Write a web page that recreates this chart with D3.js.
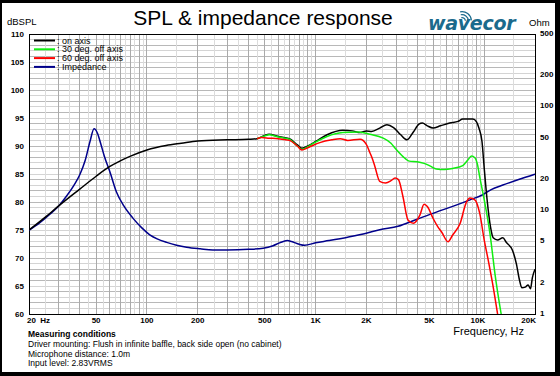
<!DOCTYPE html>
<html><head><meta charset="utf-8">
<script src="https://cdn.jsdelivr.net/npm/d3@7"></script>
<style>body{margin:0;background:#fff}svg{display:block;font-family:"Liberation Sans",Arial,sans-serif}</style>
</head><body><svg id="c" width="560" height="376"></svg>
<script>
// ---- data ----
const splTicks = [60,65,70,75,80,85,90,95,100,105,110];
const ohmTicks = [1,2,5,10,20,50,100,200,500];
const freqTicks = [20,50,100,200,500,1000,2000,5000,10000,20000];
const freqTickLabels = ["20  Hz","50","100","200","500","1K","2K","5K","10K","20K"];
const legendLabels = [": on axis",": 30 deg. off axis",": 60 deg. off axis",": Impedance"];

const onAxisF = [20,25,30,40,50,60,70,80,100,130,160,200,300,400,450,500,530,600,700,780,830,900,1000,1170,1450,1650,1836,2000,2150,2400,2650,2900,3200,3480,3800,4100,4300,4600,4970,5500,6240,7000,7460,8560,9000,9300,9700,10000,10400,10900,11300,12000,12900,13500,14700,15500,16200,16700,17500,18200,18800,19300,20000];
const onAxisDb = [75,77.3,79.3,82.3,84.6,86.3,87.4,88.2,89.3,90.1,90.5,90.9,91.1,91.2,91.3,91.9,92.1,91.7,91.3,90.2,89.6,90.0,90.8,92.0,92.8,92.7,92.4,92.7,92.6,93.2,93.8,93.3,92.0,91.1,92.5,93.9,94.1,93.6,93.2,93.6,94.1,94.4,94.8,94.8,94.3,93.2,90.8,86,80.4,75.5,73.6,73.2,73.6,72.8,71.4,69,66,64.7,64.8,65.2,64.5,66.5,68];

const deg30F = [450,500,530,600,700,780,830,900,1000,1170,1450,1800,2100,2520,2800,3000,3300,3600,4000,4400,4800,5200,5800,6500,7460,8000,8400,8800,9100,9400,10000,10800,11600,12600];
const deg30Db = [91.3,91.8,92.0,91.6,91.2,90.0,89.4,89.9,90.7,91.7,92.4,92.5,92.1,91.4,90.5,89.4,88.1,87.3,87.2,86.9,86.4,85.9,85.8,86.0,86.5,87.5,88.2,87.9,86.8,84.5,80.4,74.5,67,60];

const deg60F = [450,480,530,600,700,780,830,900,1060,1250,1400,1550,1836,2000,2100,2180,2250,2400,2600,2800,2960,3100,3300,3530,3800,4160,4400,4600,4970,5300,5600,6100,6500,7200,7800,8240,8800,9400,10000,10500,11200,12000];
const deg60Db = [91.3,91.5,91.4,91.3,91.0,90.0,89.3,89.7,90.6,91.1,91.3,91.0,91.2,90.3,88.8,87.6,86.3,83.7,83.4,83.8,84.3,84.0,80.9,76.8,76.2,77.7,79.6,79.2,77.1,75.6,74.6,72.9,74.1,76.2,79.8,80.7,80.4,78.0,73.2,70.0,65.5,60];

const impF = [20,23,26.7,30,33.5,37,40,43,46,48.6,51,53,56,60.6,66,73,82.6,93,104,115,131,150,172,207,246,300,400,489,560,612,680,720,800,860,1000,1200,1550,2000,2400,3080,4000,5200,6500,8240,9800,11000,12900,16000,20000];
const impOhm = [6.4,7.5,9.2,11,13.8,17.5,22,30,46,61,55,45,33,23,15,11,8.4,6.8,5.8,5.3,4.9,4.6,4.4,4.25,4.15,4.15,4.2,4.3,4.55,4.85,5.1,5.0,4.7,4.6,4.85,5.1,5.5,6.0,6.5,7.0,8.2,9.6,10.9,12.6,14.1,15.8,17.5,19.8,22.3];

// ---- layout ----
const svg = d3.select("#c");
const L=29, R=535, T=34, B=314;
const x = d3.scaleLog().domain([20,20000]).range([L,R]);
const y = d3.scaleLinear().domain([60,110]).range([B,T]);
const yz = d3.scaleLog().domain([1,500]).range([B,T]);

// frame
svg.append("rect").attr("width",560).attr("height",376).attr("fill","#000");
svg.append("rect").attr("x",2).attr("y",3).attr("width",553).attr("height",369).attr("fill","#fff");

// grid
const g = svg.append("g");
for (let v=60; v<=110; v+=1) {
  g.append("line").attr("x1",L).attr("x2",R).attr("y1",y(v)).attr("y2",y(v))
   .attr("stroke", v%2===0 ? "#b8b8b8" : "#d4d4d4").attr("stroke-width",1).attr("shape-rendering","crispEdges");
}
const vMajor=[], vMinor=[];
[10,100,1000,10000].forEach(d=>{
  for(let k=1;k<=9;k++){ const f=d*k; if(f>=20&&f<=20000) vMajor.push(f); const h=d*(k+0.5); if(h>20&&h<20000&&k>=1) vMinor.push(h); }
});
vMajor.push(20000);
vMinor.forEach(f=>g.append("line").attr("x1",x(f)).attr("x2",x(f)).attr("y1",T).attr("y2",B).attr("stroke","#dcdcdc").attr("shape-rendering","crispEdges"));
vMajor.forEach(f=>g.append("line").attr("x1",x(f)).attr("x2",x(f)).attr("y1",T).attr("y2",B).attr("stroke","#aaaaaa").attr("shape-rendering","crispEdges"));

svg.append("rect").attr("x",L).attr("y",T).attr("width",R-L).attr("height",B-T)
  .attr("fill","none").attr("stroke","#000").attr("shape-rendering","crispEdges");

// curves
const clipId="pc";
svg.append("clipPath").attr("id",clipId).append("rect").attr("x",L).attr("y",T).attr("width",R-L).attr("height",B-T+1);
const cg = svg.append("g").attr("clip-path","url(#pc)");
function draw(fs, vs, sy, color){
  const line = d3.line().x(d=>x(d[0])).y(d=>sy(d[1])).curve(d3.curveMonotoneX);
  cg.append("path").datum(fs.map((f,i)=>[f,vs[i]])).attr("d",line)
    .attr("fill","none").attr("stroke",color).attr("stroke-width",1.5).attr("stroke-linejoin","round");
}
draw(impF, impOhm, yz, "#00008b");
draw(onAxisF, onAxisDb, y, "#000000");
draw(deg30F, deg30Db, y, "#11ee11");
draw(deg60F, deg60Db, y, "#ff0000");
// redraw black start over green/red overlap region to keep black visible at start
// (reference draws black on top at low freqs)

// axes labels
const tl = svg.append("g").attr("font-weight","bold").attr("font-size",8).attr("fill","#000");
splTicks.forEach(v=>tl.append("text").attr("x",24).attr("y",y(v)).attr("dy","0.35em").attr("text-anchor","end").text(v));
ohmTicks.forEach(v=>tl.append("text").attr("x",540).attr("y",yz(v)-1).attr("dy","0.35em").attr("text-anchor","start").text(v));
freqTicks.forEach((f,i)=>{
  const t = tl.append("text").attr("y",322.5).text(freqTickLabels[i]).attr("xml:space","preserve");
  if(i===0) t.attr("x",27).attr("text-anchor","start");
  else if(f>=5000) t.attr("x",x(f)+1).attr("text-anchor","end");
  else t.attr("x",x(f)).attr("text-anchor","middle");
});

// titles
svg.append("text").attr("x",263).attr("y",25).attr("text-anchor","middle").attr("font-size",21).text("SPL & impedance response");
svg.append("text").attr("x",7).attr("y",25).attr("font-size",9.5).text("dBSPL");
svg.append("text").attr("x",529).attr("y",26).attr("font-size",9.5).text("Ohm");
svg.append("text").attr("x",524).attr("y",335).attr("text-anchor","end").attr("font-size",11).text("Frequency, Hz");

// logo
const logo = svg.append("g").attr("fill","#1a6a8c");
logo.append("text").attr("x",428).attr("y",30).attr("font-size",19).attr("font-style","italic").attr("font-weight","bold")
  .attr("font-family","DejaVu Sans, sans-serif").attr("letter-spacing","-0.5").attr("textLength",87).text("wavecor");
[4,7,10].forEach(r=>logo.append("path").attr("d",d3.arc()({innerRadius:r-1.2,outerRadius:r,startAngle:-0.2,endAngle:1.5}))
  .attr("transform","translate(462,21)"));

// legend
const colors=["#000000","#11ee11","#ff0000","#00008b"];
legendLabels.forEach((s,i)=>{
  const yy = 40.5 + i*8.8;
  svg.append("line").attr("x1",34).attr("x2",55).attr("y1",yy).attr("y2",yy).attr("stroke",colors[i]).attr("stroke-width",2);
  svg.append("text").attr("x",57).attr("y",yy).attr("dy","0.35em").attr("font-size",9).text(s);
});

// measuring conditions
const mc = svg.append("g").attr("font-size",8.5);
mc.append("text").attr("x",28).attr("y",337).attr("font-weight","bold").text("Measuring conditions");
mc.append("text").attr("x",28).attr("y",347).text("Driver mounting: Flush in infinite baffle, back side open (no cabinet)");
mc.append("text").attr("x",28).attr("y",356.5).text("Microphone distance: 1.0m");
mc.append("text").attr("x",28).attr("y",366).text("Input level: 2.83VRMS");
</script></body></html>
